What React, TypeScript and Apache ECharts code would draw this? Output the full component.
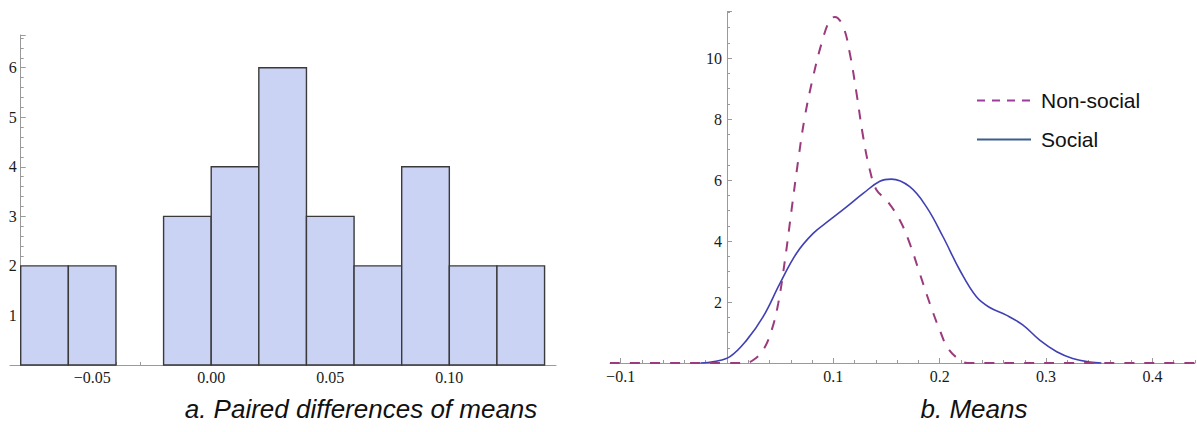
import React, { useEffect, useRef } from "react";
import * as echarts from "echarts";

// ---------- Data ----------
// Histogram (a. Paired differences of means)
const binStarts = [-0.08, -0.06, -0.04, -0.02, 0.0, 0.02, 0.04, 0.06, 0.08, 0.1, 0.12];
const binCounts = [2, 2, 0, 3, 4, 6, 3, 2, 4, 2, 2];
const binWidth = 0.02;
const histTickValues = [-0.05, 0, 0.05, 0.1];
const histTickLabels = ["\u22120.05", "0.00", "0.05", "0.10"];

// Densities (b. Means)
const socialX = [-0.025, -0.012, 0.0028, 0.0185, 0.034, 0.0498, 0.0654, 0.081, 0.0967, 0.1124, 0.128, 0.1437, 0.1546, 0.1718, 0.1875, 0.2031, 0.2188, 0.2345, 0.247, 0.2626, 0.278, 0.294, 0.31, 0.325, 0.341, 0.352];
const socialY = [0, 0.05, 0.21, 0.75, 1.52, 2.61, 3.6, 4.25, 4.69, 5.12, 5.56, 5.96, 6.03, 5.78, 5.12, 4.14, 3.05, 2.17, 1.82, 1.57, 1.25, 0.75, 0.37, 0.15, 0.03, 0];

const nonSocialX = [-0.11, -0.05, 0.0, 0.01, 0.0169, 0.0247, 0.0341, 0.042, 0.0482, 0.0545, 0.0607, 0.067, 0.0732, 0.081, 0.0889, 0.0967, 0.1014, 0.1092, 0.1155, 0.1218, 0.128, 0.1343, 0.1406, 0.15, 0.1624, 0.1718, 0.1812, 0.1906, 0.2, 0.2078, 0.2188, 0.226, 0.3, 0.44];
const nonSocialY = [0, 0, 0, 0, 0, 0.1, 0.43, 1.08, 1.96, 3.38, 5.02, 6.66, 8.08, 9.39, 10.48, 11.25, 11.35, 11.03, 10.15, 8.84, 7.42, 6.33, 5.67, 5.34, 4.69, 3.92, 2.94, 1.96, 1.08, 0.48, 0.1, 0, 0, 0];

const meansTickValues = [-0.1, 0.1, 0.2, 0.3, 0.4];
const meansTickLabels = ["\u22120.1", "0.1", "0.2", "0.3", "0.4"];

const captionA = "a. Paired differences of means";
const captionB = "b. Means";

// ---------- Helpers ----------
const makeSteps = (start: number, end: number, step: number) => {
  const out: number[] = [];
  const n = Math.round((end - start) / step);
  for (let i = 0; i <= n; i++) out.push(+(start + i * step).toFixed(6));
  return out;
};

const labelFor = (values: number[], labels: string[]) => (v: number) => {
  const i = values.findIndex((t) => Math.abs(t - v) < 1e-9);
  return i >= 0 ? labels[i] : "";
};

const AXIS_COLOR = "#9a9a9a";
const LABEL_FONT = { fontFamily: "Liberation Serif", fontSize: 16, color: "#1a1a1a" };
const CAPTION_STYLE = { fontFamily: "Liberation Sans", fontStyle: "italic", fontWeight: "normal", fontSize: 26, color: "#111" };
const HIDDEN_SYMBOL = { color: "rgba(0,0,0,0)", borderColor: "rgba(0,0,0,0)", borderWidth: 0, opacity: 0 };

export default function App() {
  const ref = useRef<HTMLDivElement>(null);

  useEffect(() => {
    if (!ref.current) return;
    const chart = echarts.init(ref.current, undefined, { renderer: "svg" });

    const histData = binStarts
      .map((s, i) => [s, s + binWidth, binCounts[i]])
      .filter((d) => d[2] > 0);
    const socialData = socialX.map((x, i) => [x, socialY[i]]);
    const nonSocialData = nonSocialX.map((x, i) => [x, nonSocialY[i]]);

    const histMin = -0.0845;
    const histMax = 0.1448;
    const histGridW = 546;
    const meansMin = -0.11;
    const meansMax = 0.44;
    const meansGridW = 585;
    // y axes cross the x axis at x = -0.08 (left) and x = 0 (right)
    const histYOffset = -((-0.08 - histMin) / (histMax - histMin)) * histGridW;
    const meansYOffset = -((0 - meansMin) / (meansMax - meansMin)) * meansGridW;

    const option: any = {
      animation: false,
      backgroundColor: "#ffffff",
      title: [
        { text: captionA, left: 356, top: 391, textAlign: "center", textStyle: CAPTION_STYLE },
        { text: captionB, left: 969, top: 391, textAlign: "center", textStyle: CAPTION_STYLE },
      ],
      legend: {
        orient: "vertical",
        left: 971,
        top: 85,
        itemWidth: 54,
        itemHeight: 14,
        itemGap: 18,
        textStyle: { fontFamily: "Liberation Sans", fontSize: 21, color: "#111", padding: [0, 0, 0, 5] },
        data: [
          { name: "Non-social", lineStyle: { color: "#9c3c9e", type: [8, 7], width: 2 }, itemStyle: HIDDEN_SYMBOL },
          { name: "Social", lineStyle: { color: "#3b5e8c", type: "solid", width: 2 }, itemStyle: HIDDEN_SYMBOL },
        ],
      },
      grid: [
        { left: 10, top: 35, width: histGridW, height: 330 },
        { left: 610, top: 11.7, width: meansGridW, height: 351.3 },
      ],
      xAxis: [
        {
          gridIndex: 0,
          type: "value",
          position: "bottom",
          min: histMin,
          max: histMax,
          axisLine: { onZero: true, lineStyle: { color: AXIS_COLOR, width: 1 } },
          axisTick: { inside: true, length: 5, customValues: histTickValues, lineStyle: { color: AXIS_COLOR } },
          axisLabel: { customValues: histTickValues, formatter: labelFor(histTickValues, histTickLabels), margin: 4, ...LABEL_FONT },
          splitLine: { show: false },
        },
        {
          gridIndex: 0,
          type: "value",
          position: "bottom",
          min: histMin,
          max: histMax,
          axisLine: { show: false, onZero: true },
          axisTick: { inside: true, length: 3, customValues: makeSteps(-0.08, 0.14, 0.01), lineStyle: { color: AXIS_COLOR } },
          axisLabel: { show: false },
          splitLine: { show: false },
        },
        {
          gridIndex: 1,
          type: "value",
          position: "bottom",
          min: meansMin,
          max: meansMax,
          axisLine: { onZero: true, lineStyle: { color: AXIS_COLOR, width: 1 } },
          axisTick: { inside: true, length: 5, customValues: meansTickValues, lineStyle: { color: AXIS_COLOR } },
          axisLabel: { customValues: meansTickValues, formatter: labelFor(meansTickValues, meansTickLabels), margin: 5, ...LABEL_FONT },
          splitLine: { show: false },
        },
        {
          gridIndex: 1,
          type: "value",
          position: "bottom",
          min: meansMin,
          max: meansMax,
          axisLine: { show: false, onZero: true },
          axisTick: { inside: true, length: 3, customValues: makeSteps(-0.1, 0.44, 0.02), lineStyle: { color: AXIS_COLOR } },
          axisLabel: { show: false },
          splitLine: { show: false },
        },
      ],
      yAxis: [
        {
          gridIndex: 0,
          type: "value",
          position: "left",
          min: 0,
          max: 6.66,
          interval: 1,
          offset: histYOffset,
          axisLine: { show: true, onZero: false, lineStyle: { color: AXIS_COLOR, width: 1 } },
          axisTick: { show: true, inside: true, length: 5, lineStyle: { color: AXIS_COLOR } },
          minorTick: { show: true, splitNumber: 5, length: 3, lineStyle: { color: AXIS_COLOR } },
          axisLabel: { showMaxLabel: false, margin: 4, formatter: (v: number) => (v === 0 ? "" : String(v)), ...LABEL_FONT },
          splitLine: { show: false },
          minorSplitLine: { show: false },
        },
        {
          gridIndex: 1,
          type: "value",
          position: "left",
          min: 0,
          max: 11.52,
          interval: 2,
          offset: meansYOffset,
          axisLine: { show: true, onZero: false, lineStyle: { color: AXIS_COLOR, width: 1 } },
          axisTick: { show: true, inside: true, length: 5, lineStyle: { color: AXIS_COLOR } },
          minorTick: { show: true, splitNumber: 4, length: 3, lineStyle: { color: AXIS_COLOR } },
          axisLabel: { showMaxLabel: false, margin: 5, formatter: (v: number) => (v === 0 ? "" : String(v)), ...LABEL_FONT },
          splitLine: { show: false },
          minorSplitLine: { show: false },
        },
      ],
      series: [
        {
          type: "custom",
          name: "Histogram",
          xAxisIndex: 0,
          yAxisIndex: 0,
          encode: { x: [0, 1], y: 2 },
          data: histData,
          z: 3,
          renderItem: (params: any, api: any) => {
            const p0 = api.coord([api.value(0), api.value(2)]);
            const p1 = api.coord([api.value(1), 0]);
            return {
              type: "rect",
              shape: { x: p0[0], y: p0[1], width: p1[0] - p0[0], height: p1[1] - p0[1] },
              style: { fill: "#cbd3f5", stroke: "#3a3a3a", lineWidth: 1.4 },
            };
          },
        },
        {
          type: "line",
          name: "Social",
          xAxisIndex: 2,
          yAxisIndex: 1,
          data: socialData,
          smooth: 0.4,
          symbol: "none",
          showSymbol: false,
          clip: false,
          z: 3,
          lineStyle: { color: "#4040b4", width: 1.6 },
          itemStyle: { color: "#4040b4" },
        },
        {
          type: "line",
          name: "Non-social",
          xAxisIndex: 2,
          yAxisIndex: 1,
          data: nonSocialData,
          smooth: 0.4,
          symbol: "none",
          showSymbol: false,
          clip: false,
          z: 4,
          lineStyle: { color: "#9b3a7c", width: 2, type: [10, 10] },
          itemStyle: { color: "#9b3a7c" },
        },
      ],
    };

    chart.setOption(option);
    return () => chart.dispose();
  }, []);

  return (
    <div
      ref={ref}
      style={{ position: "fixed", left: 0, top: 0, width: 1197, height: 432, background: "#fff" }}
    />
  );
}
